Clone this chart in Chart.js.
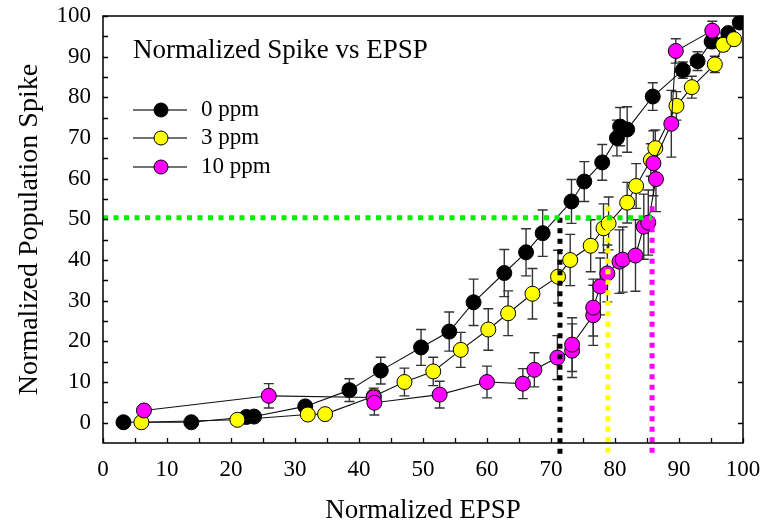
<!DOCTYPE html>
<html>
<head>
<meta charset="utf-8">
<script src="https://cdn.jsdelivr.net/npm/chart.js@4"></script>
<style>
html,body{margin:0;padding:0;background:#fff;}
#wrap{width:768px;height:524px;position:relative;}
</style>
</head>
<body>
<div id="wrap"><canvas id="c" width="768" height="524"></canvas></div>
<script>
// ---- data ----
const seriesNames = ['0 ppm', '3 ppm', '10 ppm'];

const epsp0  = [3.2,13.8,22.4,23.6,31.6,38.5,43.4,49.7,54.1,57.9,62.7,66.1,68.7,73.2,75.2,78,80.3,80.8,81.9,85.9,90.6,92.9,95.1,97.7,99.5];
const spike0 = [0.1,0.1,1.4,1.5,4,8,12.8,18.5,22.4,29.6,36.8,41.9,46.6,54.4,59.3,64,70,72.8,72.1,80.2,86.7,88.9,93.7,95.8,98.4];
const err0   = [0,0,0.5,0.5,1,2.8,3.3,4.4,4.8,5.7,5.8,5.8,5.7,5.4,4.9,4.4,4.4,4.7,5.6,3.4,2,2.3,1.5,1,0];

const epsp3  = [6,21,32,34.7,42.3,47.1,51.6,55.9,60.2,63.3,67.1,71.1,73,76.2,78.2,79,81.9,83.3,85.6,86.3,89.6,92,95.6,96.9,98.6];
const spike3 = [0.1,0.7,2,2.1,6.5,10,12.6,17.9,22.9,26.9,31.7,35.9,40,43.5,47.8,49,54.1,58.2,64.6,67.5,77.9,82.5,88.1,92.9,94.3];
const err3   = [0,0,0,0,2,3.4,3.5,4.3,5.1,5.5,6.2,6.5,6.3,6.4,6,6.5,5,5.5,4,4.5,3.5,2.7,2,1.5,1];

const epsp10  = [6.4,25.9,42.3,42.4,52.6,60,65.6,67.4,71,73.3,73.3,76.6,76.6,77.7,78.8,80.7,81.2,83.2,84.5,85.2,86.4,86,88.8,89.5,95.2];
const spike10 = [3,6.6,6.2,4.9,6.9,10,9.6,13,16,17.7,19.2,26.4,28.3,33.5,36.7,39.6,40.1,41.1,48.2,49.2,59.9,63.8,73.5,91.4,96.4];
const err10   = [0,3,0,3,3.3,3.9,3.7,4.2,5.4,6.6,6.6,7.4,7,7,7,7.8,8,8.8,8,8,8,8,8.2,3,2.3];

// reference (threshold) lines
const refLevel = 50.4;
const refCrossX = [71.4, 78.9, 85.8];
const refCrossTop = [50.4, 53.2, 53.2];
const refBottom = -8;

const xTickValues = [0,10,20,30,40,50,60,70,80,90,100];
const yTickValues = [0,10,20,30,40,50,60,70,80,90,100];

const legendTitle = 'Normalized Spike vs EPSP';
const xTitle = 'Normalized EPSP';
const yTitle = 'Normalized Population Spike';

// ---- build ----
const SERIF = "'Liberation Serif','Times New Roman',serif";
const fills = ['#000000', '#ffff00', '#ff00ff'];
const pts = (xs, ys) => xs.map((x, i) => ({x: x, y: ys[i]}));
const errs = [err0, err3, err10];

const mainSets = [[epsp0, spike0], [epsp3, spike3], [epsp10, spike10]].map((s, i) => ({
  label: seriesNames[i],
  data: pts(s[0], s[1]),
  showLine: true,
  borderColor: '#111',
  borderWidth: 1.1,
  pointRadius: 7.5,
  pointHoverRadius: 7.5,
  pointBackgroundColor: fills[i],
  pointBorderColor: '#000',
  pointBorderWidth: 1,
  order: 3 - i,
  errors: errs[i]
}));

const refColors = ['#000000', '#ffff00', '#ff00ff'];
const refSets = [{
  label: 'ref',
  data: [{x: 0, y: refLevel}, {x: refCrossX[2], y: refLevel}],
  borderColor: '#00f000'
}].concat(refCrossX.map((x, i) => ({
  label: 'ref',
  data: [{x: x, y: refCrossTop[i]}, {x: x, y: refBottom}],
  borderColor: refColors[i]
}))).map(d => Object.assign(d, {
  showLine: true, borderWidth: 5, borderDash: [5, 5.5], borderCapStyle: 'butt',
  pointRadius: 0, pointHoverRadius: 0, clip: false, order: 0, isRef: true
}));

const errorBarPlugin = {
  id: 'errorBars',
  beforeDatasetsDraw(chart) {
    const ctx = chart.ctx, xs = chart.scales.x, ys = chart.scales.y;
    ctx.save();
    ctx.strokeStyle = '#333';
    ctx.lineWidth = 1.4;
    chart.data.datasets.forEach(ds => {
      if (!ds.errors) return;
      ds.data.forEach((p, i) => {
        const e = ds.errors[i];
        if (!e) return;
        const px = xs.getPixelForValue(p.x);
        const y1 = ys.getPixelForValue(p.y - e), y2 = ys.getPixelForValue(p.y + e);
        ctx.beginPath();
        ctx.moveTo(px, y1); ctx.lineTo(px, y2);
        ctx.moveTo(px - 5, y1); ctx.lineTo(px + 5, y1);
        ctx.moveTo(px - 5, y2); ctx.lineTo(px + 5, y2);
        ctx.stroke();
      });
    });
    ctx.restore();
  }
};

const framePlugin = {
  id: 'frame',
  afterDatasetsDraw(chart) {
    const ctx = chart.ctx, a = chart.chartArea, xs = chart.scales.x, ys = chart.scales.y;
    ctx.save();
    ctx.strokeStyle = '#000';
    ctx.lineWidth = 1.5;
    ctx.strokeRect(a.left, a.top, a.right - a.left, a.bottom - a.top);
    ctx.lineWidth = 1.3;
    ctx.beginPath();
    for (let v = 0; v <= 100; v += 5) {
      const px = Math.round(xs.getPixelForValue(v)) + 0.5;
      ctx.moveTo(px, a.bottom); ctx.lineTo(px, a.bottom - 5);
      const py = Math.round(ys.getPixelForValue(v)) + 0.5;
      ctx.moveTo(a.left, py); ctx.lineTo(a.left + 5, py);
      if (v % 10 === 0) { ctx.moveTo(a.right, py); ctx.lineTo(a.right - 5, py); }
    }
    ctx.stroke();
    ctx.restore();
  }
};

const legendPlugin = {
  id: 'insideLegend',
  afterDraw(chart) {
    const ctx = chart.ctx;
    ctx.save();
    ctx.fillStyle = '#000';
    ctx.textBaseline = 'middle';
    ctx.textAlign = 'left';
    ctx.font = '27px ' + SERIF;
    ctx.fillText(legendTitle, 133, 51);
    const rows = [110, 138, 167];
    ctx.font = '23px ' + SERIF;
    mainSets.forEach((ds, i) => {
      const y = rows[i];
      ctx.strokeStyle = '#444';
      ctx.lineWidth = 1.5;
      ctx.beginPath(); ctx.moveTo(133, y); ctx.lineTo(187, y); ctx.stroke();
      ctx.beginPath(); ctx.arc(161, y, 7, 0, Math.PI * 2);
      ctx.fillStyle = ds.pointBackgroundColor; ctx.fill();
      ctx.strokeStyle = '#000'; ctx.lineWidth = 1; ctx.stroke();
      ctx.fillStyle = '#000';
      ctx.fillText(ds.label, 201, y);
    });
    ctx.restore();
  }
};

new Chart(document.getElementById('c'), {
  type: 'scatter',
  data: {datasets: mainSets.concat(refSets)},
  options: {
    responsive: false,
    animation: false,
    events: [],
    layout: {padding: {top: 16, right: 25, left: 0, bottom: 0}},
    plugins: {legend: {display: false}, tooltip: {enabled: false}, title: {display: false}},
    scales: {
      x: {
        type: 'linear', min: 0, max: 100,
        afterBuildTicks: s => { s.ticks = xTickValues.map(v => ({value: v})); },
        afterFit: s => { s.height = 81; s.paddingLeft = 0; s.paddingRight = 0; },
        grid: {display: false, drawTicks: false},
        border: {display: false},
        ticks: {font: {family: SERIF, size: 23}, color: '#000', padding: 13, maxRotation: 0},
        title: {display: true, text: xTitle, font: {family: SERIF, size: 27, lineHeight: 1}, color: '#000', padding: {top: 0, bottom: 0}}
      },
      y: {
        type: 'linear', min: -5, max: 100,
        afterBuildTicks: s => { s.ticks = yTickValues.map(v => ({value: v})); },
        afterFit: s => { s.width = 103; s.paddingTop = 0; s.paddingBottom = 0; },
        grid: {display: false, drawTicks: false},
        border: {display: false},
        ticks: {font: {family: SERIF, size: 23}, color: '#000', padding: 12},
        title: {display: true, text: yTitle, font: {family: SERIF, size: 28, lineHeight: 1}, color: '#000', padding: {top: 16, bottom: 0}}
      }
    }
  },
  plugins: [errorBarPlugin, framePlugin, legendPlugin]
});
</script>
</body>
</html>
